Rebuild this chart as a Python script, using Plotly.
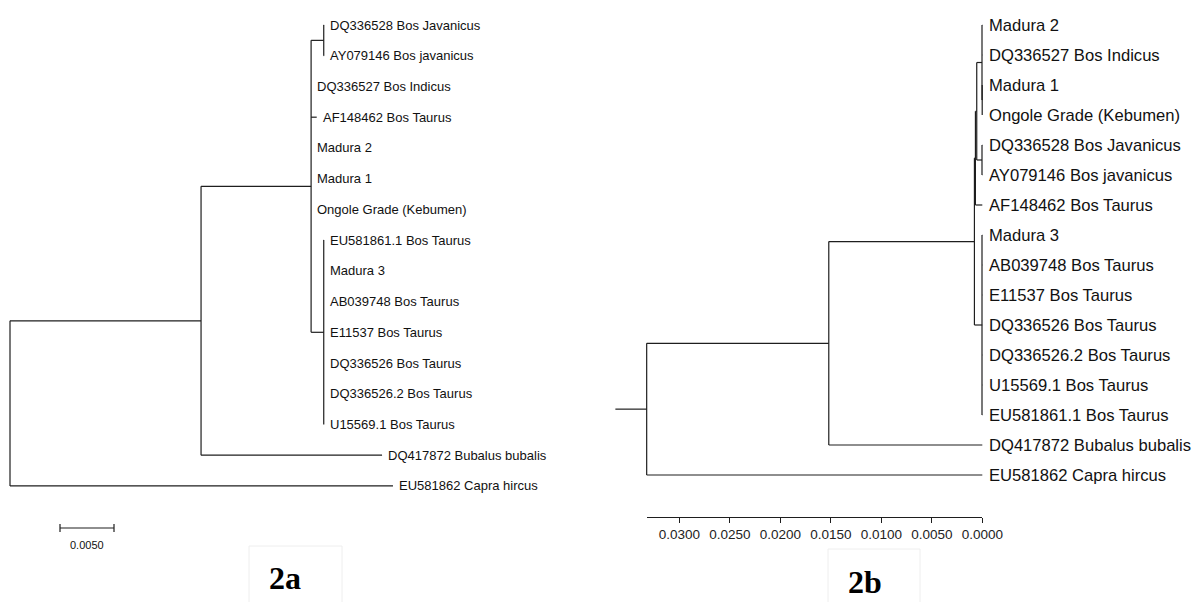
import plotly.graph_objects as go

# ---------------- DATA ----------------
# Tree 2a (branch lengths, substitutions/site)
a_nodes = ["root", "n1", "EU581862 Capra hircus", "n2", "DQ417872 Bubalus bubalis", "jav",
           "DQ336528 Bos Javanicus", "AY079146 Bos javanicus", "DQ336527 Bos Indicus",
           "AF148462 Bos Taurus", "Madura 2", "Madura 1", "Ongole Grade (Kebumen)", "tau",
           "EU581861.1 Bos Taurus", "Madura 3", "AB039748 Bos Taurus", "E11537 Bos Taurus",
           "DQ336526 Bos Taurus", "DQ336526.2 Bos Taurus", "U15569.1 Bos Taurus"]
a_parents = [None, "root", "root", "n1", "n1", "n2",
             "jav", "jav", "n2",
             "n2", "n2", "n2", "n2", "n2",
             "tau", "tau", "tau", "tau",
             "tau", "tau", "tau"]
a_lengths = [0, 0.01769, 0.03546, 0.01019, 0.01676, 0.00117,
             0.00003, 0.00003, 0.0,
             0.00052, 0.0, 0.0, 0.0, 0.00117,
             0.00002, 0.0, 0.0, 0.0,
             0.0, 0.0, 0.0]
a_scale_bar = 0.0050

# Tree 2b (node heights on the distance axis)
b_nodes = ["root", "e", "EU581862 Capra hircus", "d", "DQ417872 Bubalus bubalis", "c", "tau",
           "b", "AF148462 Bos Taurus", "a", "jav", "Madura 2", "DQ336527 Bos Indicus", "a1",
           "Madura 1", "Ongole Grade (Kebumen)", "DQ336528 Bos Javanicus", "AY079146 Bos javanicus",
           "Madura 3", "AB039748 Bos Taurus", "E11537 Bos Taurus", "DQ336526 Bos Taurus",
           "DQ336526.2 Bos Taurus", "U15569.1 Bos Taurus", "EU581861.1 Bos Taurus"]
b_parents = [None, "root", "root", "e", "e", "d", "d",
             "c", "c", "b", "b", "a", "a", "a",
             "a1", "a1", "jav", "jav",
             "tau", "tau", "tau", "tau",
             "tau", "tau", "tau"]
b_heights = [0.03323, 0.0152, 0.0, 0.00078, 0.0, 0.00068, 0.00003,
             0.00055, 0.0, 0.00003, 0.00003, 0.0, 0.0, 0.00001,
             0.0, 0.0, 0.0, 0.0,
             0.0, 0.0, 0.0, 0.0,
             0.0, 0.0, 0.0]
b_root_stub = 0.0031
b_ticks = [0.0300, 0.0250, 0.0200, 0.0150, 0.0100, 0.0050, 0.0000]

# ---------------- LAYOUT HELPERS ----------------
W, H = 1193, 602
LINE = dict(color="#1e1e1e", width=1.2)
SANS = "Liberation Sans, Arial, sans-serif"


def layout_tree(nodes, parents, values, cumulative):
    children = {n: [] for n in nodes}
    for n, p in zip(nodes, parents):
        if p is not None:
            children[p].append(n)
    val = dict(zip(nodes, values))
    root = nodes[parents.index(None)]
    x = {}

    def setx(n, px):
        x[n] = px + val[n] if cumulative else val[n]
        for c in children[n]:
            setx(c, x[n])
    setx(root, 0.0)
    y, leaves = {}, []

    def sety(n):
        if not children[n]:
            y[n] = len(leaves)
            leaves.append(n)
        else:
            for c in children[n]:
                sety(c)
            y[n] = (y[children[n][0]] + y[children[n][-1]]) / 2
    sety(root)
    xs, ys = [], []
    for n, p in zip(nodes, parents):
        if p is not None:
            xs += [x[p], x[n], None]
            ys += [y[n], y[n], None]
        if children[n]:
            xs += [x[n], x[n], None]
            ys += [y[children[n][0]], y[children[n][-1]], None]
    return root, x, y, leaves, xs, ys


# pixel mapping constants
A_X0, A_K = 10.0, 10800.0        # left tree: px = A_X0 + A_K * d
A_Y0, A_DY = 25.0, 30.73         # row pixel = A_Y0 + A_DY * i
B_X0, B_K = 982.3, 10100.0       # right tree: px = B_X0 - B_K * h
B_Y0, B_DY = 25.0, 30.0
AXIS_Y = 517.0

ra, xa, ya, leaves_a, xsa, ysa = layout_tree(a_nodes, a_parents, a_lengths, True)
rb, xb, yb, leaves_b, xsb, ysb = layout_tree(b_nodes, b_parents, b_heights, False)

# root stub for tree b
xsb += [xb[rb], xb[rb] + b_root_stub, None]
ysb += [yb[rb], yb[rb], None]

fig = go.Figure()
fig.add_trace(go.Scatter(x=xsa, y=ysa, mode="lines", line=LINE, hoverinfo="skip",
                         xaxis="x", yaxis="y", showlegend=False))
fig.add_trace(go.Scatter(x=xsb, y=ysb, mode="lines", line=LINE, hoverinfo="skip",
                         xaxis="x2", yaxis="y2", showlegend=False))

# scale bar (tree a)
sb_x0 = (60 - A_X0) / A_K
sb_y = (528 - A_Y0) / A_DY
cap = 4 / A_DY
fig.add_trace(go.Scatter(
    x=[sb_x0, sb_x0 + a_scale_bar, None, sb_x0, sb_x0, None, sb_x0 + a_scale_bar, sb_x0 + a_scale_bar],
    y=[sb_y, sb_y, None, sb_y - cap, sb_y + cap, None, sb_y - cap, sb_y + cap],
    mode="lines", line=LINE, hoverinfo="skip", xaxis="x", yaxis="y", showlegend=False))

annotations = []
for n in leaves_a:
    annotations.append(dict(x=xa[n], y=ya[n], xref="x", yref="y", text=n, showarrow=False,
                            xanchor="left", yanchor="middle", xshift=4,
                            font=dict(family=SANS, size=13, color="#111")))
for n in leaves_b:
    annotations.append(dict(x=xb[n], y=yb[n], xref="x2", yref="y2", text=n, showarrow=False,
                            xanchor="left", yanchor="middle", xshift=5,
                            font=dict(family=SANS, size=16.6, color="#111")))
annotations.append(dict(x=sb_x0 + a_scale_bar / 2, y=(545 - A_Y0) / A_DY, xref="x", yref="y",
                        text="%.4f" % a_scale_bar, showarrow=False, xanchor="center", yanchor="middle",
                        font=dict(family=SANS, size=11, color="#111")))
annotations.append(dict(x=285 / W, y=1 - 578 / H, xref="paper", yref="paper", text="<b>2a</b>",
                        showarrow=False, xanchor="center", yanchor="middle",
                        font=dict(family="Liberation Serif, Times New Roman, serif", size=32, color="#000")))
annotations.append(dict(x=865 / W, y=1 - 582 / H, xref="paper", yref="paper", text="<b>2b</b>",
                        showarrow=False, xanchor="center", yanchor="middle",
                        font=dict(family="Liberation Serif, Times New Roman, serif", size=32, color="#000")))

shapes = [
    dict(type="rect", xref="paper", yref="paper", x0=249 / W, x1=342 / W, y0=-0.02, y1=1 - 546 / H,
         line=dict(color="#eeeeee", width=1)),
    dict(type="rect", xref="paper", yref="paper", x0=828 / W, x1=920 / W, y0=-0.02, y1=1 - 549 / H,
         line=dict(color="#eeeeee", width=1)),
]

# distance axis for tree b
root_h = xb[rb]
ax_dom = [(B_X0 - B_K * root_h) / W, B_X0 / W]
fig.add_trace(go.Scatter(x=[root_h, 0], y=[0, 0], mode="markers", marker=dict(opacity=0),
                         hoverinfo="skip", xaxis="x3", yaxis="y3", showlegend=False))
tick_common = dict(domain=ax_dom, range=[root_h, 0], anchor="y3", showgrid=False, zeroline=False,
                   showline=True, linecolor="#1e1e1e", linewidth=1.2, tickmode="array",
                   tickvals=b_ticks, tickcolor="#1e1e1e", tickwidth=1.2, ticklen=5,
                   automargin=False, tickangle=0, fixedrange=True)

fig.update_layout(
    width=W, height=H, margin=dict(l=0, r=0, t=0, b=0, pad=0, autoexpand=False),
    paper_bgcolor="white", plot_bgcolor="rgba(0,0,0,0)",
    xaxis=dict(domain=[0, 1], range=[-A_X0 / A_K, (W - A_X0) / A_K], visible=False, automargin=False),
    yaxis=dict(domain=[0, 1], range=[(H - A_Y0) / A_DY, -A_Y0 / A_DY], visible=False, automargin=False),
    xaxis2=dict(domain=[0, 1], range=[B_X0 / B_K, (B_X0 - W) / B_K], visible=False,
                anchor="y2", overlaying="x", automargin=False),
    yaxis2=dict(domain=[0, 1], range=[(H - B_Y0) / B_DY, -B_Y0 / B_DY], visible=False,
                anchor="x2", overlaying="y", automargin=False),
    xaxis3=dict(ticks="outside", ticktext=["%.4f" % t for t in b_ticks],
                tickfont=dict(family=SANS, size=13.5, color="#222"), **tick_common),
    xaxis4=dict(ticks="inside", showticklabels=False, overlaying="x3", **tick_common),
    yaxis3=dict(domain=[1 - AXIS_Y / H, 1], visible=False, anchor="x3", automargin=False),
    annotations=annotations, shapes=shapes,
)

fig.write_html("out.html", config={"displayModeBar": False},
               post_script="document.body.style.margin='0';")
